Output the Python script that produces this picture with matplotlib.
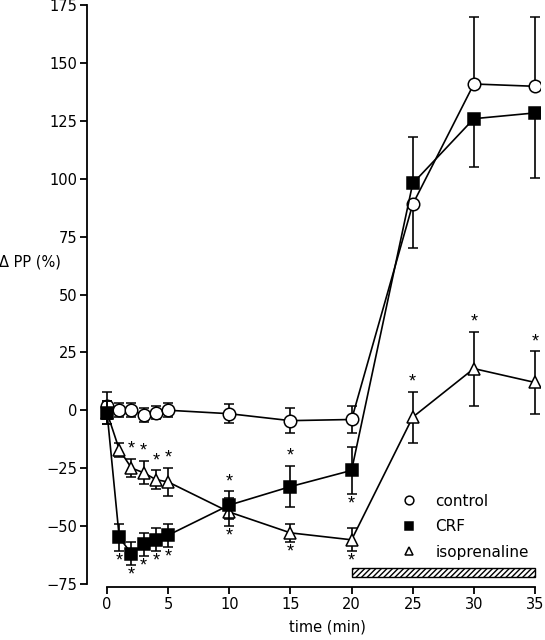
import matplotlib
matplotlib.use('Agg')
import matplotlib.pyplot as plt
from matplotlib.patches import Rectangle

plt.rcParams['font.family'] = ['DejaVu Sans']

# data
time = [0, 1, 2, 3, 4, 5, 10, 15, 20, 25, 30, 35]

control = [2, 0, 0, -2, -1, 0, -1.5, -4.5, -4, 89, 141, 140]
control_lo = [6, 3, 3, 3, 3, 3, 4, 5.5, 6, 19, 0, 0]
control_hi = [6, 3, 3, 3, 3, 3, 4, 5.5, 6, 0, 29, 30]

crf = [-1, -55, -62, -58, -56, -54, -41, -33, -26, 98, 126, 128.5]
crf_lo = [5, 6, 5, 5, 5, 5, 6, 9, 10, 0, 21, 28]
crf_hi = [5, 6, 5, 5, 5, 5, 6, 9, 10, 20, 0, 0]

iso = [-1, -17, -25, -27, -30, -31, -44, -53, -56, -3, 18, 12]
iso_err = [5, 3, 4, 5, 4, 6, 6, 4, 5, 11, 16, 13.5]

# significance stars: 1 = above the error bar, -1 = below, 0 = none
crf_star = [0, -1, -1, -1, -1, -1, 1, 1, -1, 0, 0, 0]
iso_star = [0, 0, 1, 1, 1, 1, -1, -1, -1, 1, 1, 1]

# hatched bar (infusion period)
bar_t = (20, 35)
bar_y = (-72, -68)

fig = plt.figure(figsize=(5.45, 6.4), dpi=100)
ax = fig.add_axes([0.1596, 0.0828, 0.831, 0.9125])

lw = 1.2
common = dict(color='black', linewidth=lw, elinewidth=lw, capsize=3.6,
              capthick=lw, markersize=9, markeredgewidth=1.1)

ax.errorbar(time, control, yerr=[control_lo, control_hi], fmt='-o',
            markerfacecolor='white', markeredgecolor='black',
            label='control', zorder=3, **common)
ax.errorbar(time, iso, yerr=iso_err, fmt='-^', markerfacecolor='white',
            markeredgecolor='black', label='isoprenaline', zorder=4, **common)
ax.errorbar(time, crf, yerr=[crf_lo, crf_hi], fmt='-s',
            markerfacecolor='black', markeredgecolor='black',
            label='CRF', zorder=5, **common)

def stars(vals, lo, hi, flags):
    for t, v, el, eh, f in zip(time, vals, lo, hi, flags):
        if f > 0:
            ax.text(t, v + eh + 0.5, '*', ha='center', va='bottom',
                    fontsize=13, family='Liberation Sans')
        elif f < 0:
            ax.text(t, v - el - 8, '*', ha='center', va='bottom',
                    fontsize=13, family='Liberation Sans')

stars(crf, crf_lo, crf_hi, crf_star)
stars(iso, iso_err, iso_err, iso_star)

ax.add_patch(Rectangle((bar_t[0], bar_y[0]), bar_t[1] - bar_t[0],
                       bar_y[1] - bar_y[0], facecolor='white',
                       edgecolor='black', hatch='//////', linewidth=1.0))

ax.set_xlim(-1.64, 35.4)
ax.set_ylim(-76.4, 176)
ax.set_xticks([0, 5, 10, 15, 20, 25, 30, 35])
ax.set_yticks(range(-75, 176, 25))

for s in ['top', 'right']:
    ax.spines[s].set_visible(False)
ax.spines['left'].set_bounds(-75, 175)
ax.spines['bottom'].set_bounds(0, 35)
for s in ['left', 'bottom']:
    ax.spines[s].set_linewidth(1.3)
ax.tick_params(direction='out', length=5, width=1.3, labelsize=10.5, pad=2)

ax.set_xlabel('time (min)', fontsize=10.5)
ax.xaxis.set_label_coords(0.532, -0.055)
ax.text(-0.195, 0.556, '\u0394 PP (%)', transform=ax.transAxes,
        fontsize=10.5, ha='left', va='center')

h, l = ax.get_legend_handles_labels()
order = [l.index('control'), l.index('CRF'), l.index('isoprenaline')]
leg = ax.legend([h[i][0] for i in order], [l[i] for i in order],
                loc='upper left', bbox_to_anchor=(0.681, 0.17),
                borderaxespad=0, frameon=False, fontsize=11,
                handlelength=1.0, handletextpad=1.2, labelspacing=0.68,
                markerscale=0.7)
for lh in leg.legend_handles:
    lh.set_linestyle('None')

fig.savefig('out.png', dpi=100)
